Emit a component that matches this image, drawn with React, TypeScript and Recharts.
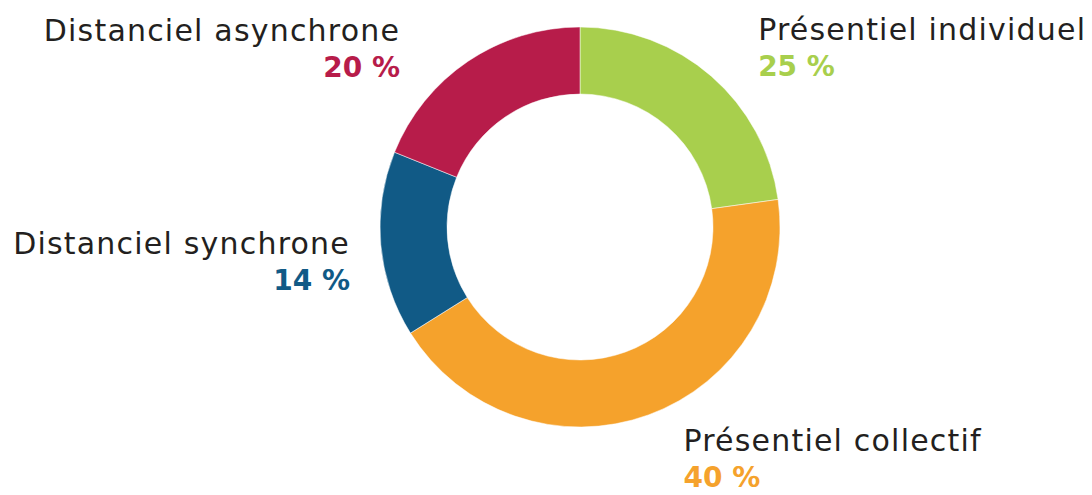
import { Cell, Pie, PieChart } from "recharts";

const categories = [
  "Présentiel individuel",
  "Présentiel collectif",
  "Distanciel synchrone",
  "Distanciel asynchrone",
];
const shares = [22.8, 43.3, 15.0, 18.9];
// percentages printed next to each slice
const printedPercents = ["25 %", "40 %", "14 %", "20 %"];

const colors = ["#a8cf4d", "#f5a22c", "#115a86", "#b71c4a"];

const data = categories.map((name, i) => ({ name, value: shares[i] }));

const RADIAN = Math.PI / 180;
const LABEL_RADIUS = 250;
// small per-slice nudges so the text blocks sit where the original has them
const labelNudge = [
  { dx: 14, dy: 10 },
  { dx: 18, dy: -3 },
  { dx: 19, dy: 13 },
  { dx: -40, dy: 29 },
];

function SliceLabel(props: any) {
  const { cx, cy, midAngle, index } = props;
  const cos = Math.cos(-midAngle * RADIAN);
  const sin = Math.sin(-midAngle * RADIAN);
  const x = cx + LABEL_RADIUS * cos + labelNudge[index].dx;
  const y = cy + LABEL_RADIUS * sin + labelNudge[index].dy;
  const anchor = cos >= 0 ? "start" : "end";
  return (
    <g>
      <text
        x={x}
        y={y - 8}
        textAnchor={anchor}
        fill="#231f20"
        fontSize={30}
        letterSpacing={1.2}
        fontFamily="DejaVu Sans, sans-serif"
      >
        {categories[index]}
      </text>
      <text
        x={x}
        y={y + 28}
        textAnchor={anchor}
        fill={colors[index]}
        fontSize={28}
        fontWeight="bold"
        fontFamily="DejaVu Sans, sans-serif"
      >
        {printedPercents[index]}
      </text>
    </g>
  );
}

export default function App() {
  return (
    <div style={{ position: "absolute", left: 0, top: 0, background: "#fff" }}>
      <PieChart width={1092} height={495} margin={{ top: 0, right: 0, bottom: 0, left: 0 }}>
        <Pie
          data={data}
          dataKey="value"
          nameKey="name"
          cx={580}
          cy={227}
          outerRadius={200}
          innerRadius={133}
          startAngle={90}
          endAngle={-270}
          stroke="#fff"
          strokeWidth={0.5}
          label={SliceLabel}
          labelLine={false}
          isAnimationActive={false}
        >
          {data.map((d, i) => (
            <Cell key={d.name} fill={colors[i]} />
          ))}
        </Pie>
      </PieChart>
    </div>
  );
}
